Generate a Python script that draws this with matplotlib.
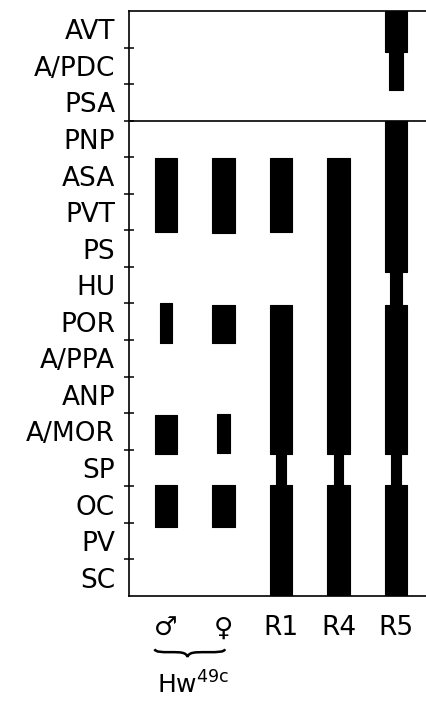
import numpy as np
import matplotlib.pyplot as plt
import matplotlib.transforms as mtransforms
from matplotlib.path import Path
from matplotlib.patches import PathPatch

# brain regions, top to bottom (one row each)
regions = ["AVT", "A/PDC", "PSA", "PNP", "ASA", "PVT", "PS", "HU", "POR",
           "A/PPA", "ANP", "A/MOR", "SP", "OC", "PV", "SC"]
columns = ["\u2642", "\u2640", "R1", "R4", "R5"]
strain = r"Hw$^{\mathrm{49c}}$"

# stained segments per column: (from row, to row, relative width)
male = [(4.02, 6.04, 1.0), (7.99, 9.08, 0.55), (11.05, 12.12, 1.0),
        (12.96, 14.11, 1.0)]
female = [(4.02, 6.07, 1.0), (8.04, 9.08, 1.0), (11.02, 12.09, 0.55),
          (12.96, 14.11, 1.0)]
r1 = [(4.02, 6.04, 1.0), (8.04, 12.12, 1.0), (12.0, 13.0, 0.45),
      (12.96, 16.0, 1.0)]
r4 = [(4.02, 12.12, 1.0), (12.0, 13.0, 0.4), (12.96, 16.0, 1.0)]
r5 = [(0.0, 1.12, 1.0), (1.0, 2.16, 0.58), (3.0, 7.14, 1.0),
      (7.0, 8.1, 0.5), (8.04, 12.12, 1.0), (12.0, 13.0, 0.45),
      (12.96, 16.0, 1.0)]
segments = [male, female, r1, r4, r5]

BAR_W = 0.39

fig = plt.figure(figsize=(4.27, 7.01), dpi=100)
ax = fig.add_axes([0.302, 0.1498, 0.698, 0.8345])

for i, col in enumerate(segments):
    for top, bot, w in col:
        ax.bar(i + 1, bot - top, bottom=top, width=BAR_W * w,
               color="black", edgecolor="black", linewidth=0.8,
               joinstyle="round")

ax.set_xlim(0.357, 5.539)
ax.set_ylim(len(regions), 0)

# divider between the two sections
ax.axhline(3, color="black", lw=1.2)

for s in ["top", "left", "bottom"]:
    ax.spines[s].set_linewidth(1.2)
ax.spines["right"].set_visible(False)

ax.set_yticks(np.arange(1, len(regions)))
ax.set_yticklabels([])
ax.set_yticks(np.arange(len(regions)) + 0.5, minor=True)
ax.set_yticklabels(regions, minor=True, fontsize=19)
ax.tick_params(axis="y", which="major", direction="inout", length=7,
               width=1.1)
ax.tick_params(axis="y", which="minor", length=0, pad=10)

ax.set_xticks(np.arange(1, len(columns) + 1))
ax.set_xticklabels(columns, fontsize=19)
ax.tick_params(axis="x", length=0, pad=14)

# curly brace under the two Hw49c columns
trans = mtransforms.blended_transform_factory(ax.transData, ax.transAxes)
x0, x1 = 0.8, 2.03
xc = (x0 + x1) / 2 - 0.04
yt, ym, yb = -0.091, -0.096, -0.104
verts = [(x0, yt), (x0 + 0.03, ym), (x0 + 0.1, ym), ((x0 + xc) / 2, ym),
         (xc - 0.12, ym), (xc - 0.03, ym), (xc, yb),
         (xc + 0.03, ym), (xc + 0.12, ym), ((xc + x1) / 2, ym),
         (x1 - 0.1, ym), (x1 - 0.03, ym), (x1, yt)]
codes = [Path.MOVETO] + [Path.CURVE4] * 12
ax.add_patch(PathPatch(Path(verts, codes), fill=False, lw=1.8,
                       transform=trans, clip_on=False))

ax.text(1.47, -0.152, strain, transform=trans, ha="center", va="center",
        fontsize=18)

fig.savefig("out.png", dpi=100)
